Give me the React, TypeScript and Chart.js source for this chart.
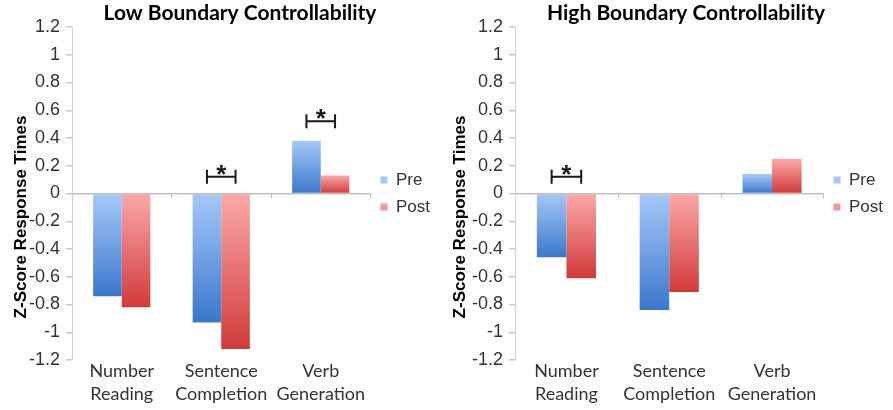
import React, { useEffect, useRef } from 'react';
import { Chart, registerables } from 'chart.js';

Chart.register(...registerables);

// ---- data ----
const categories: string[][] = [
  ['Number', 'Reading'],
  ['Sentence', 'Completion'],
  ['Verb', 'Generation'],
];
const seriesNames = ['Pre', 'Post'];

const lowTitle = 'Low Boundary Controllability';
const lowPre = [-0.74, -0.93, 0.38];
const lowPost = [-0.82, -1.12, 0.13];
const lowSigLevels: (number | null)[] = [null, 0.12, 0.52];

const highTitle = 'High Boundary Controllability';
const highPre = [-0.46, -0.84, 0.14];
const highPost = [-0.61, -0.71, 0.25];
const highSigLevels: (number | null)[] = [0.12, null, null];

const yAxisTitle = 'Z-Score Response Times';
const yMin = -1.2;
const yMax = 1.2;
const yStep = 0.2;
const sigMark = '*';

// ---- styles ----
const ARIAL = '"Liberation Sans", Arial, sans-serif';
const CAL = 'Lato, "Open Sans", sans-serif';
const PALETTE = {
  pre: { light: '#a6c8f8', dark: '#3a78cc', solid: '#4a84d2' },
  post: { light: '#fba8a8', dark: '#d23a3a', solid: '#d9545a' },
};

function gradientFill(c: { light: string; dark: string; solid: string }) {
  return (ctx: any) => {
    if (ctx.type !== 'data') return c.solid;
    const chart = ctx.chart;
    const ys = chart.scales && chart.scales.y;
    if (!ys) return c.solid;
    const v = ctx.raw as number;
    const p0 = ys.getPixelForValue(0);
    const p1 = ys.getPixelForValue(v);
    const top = Math.min(p0, p1);
    const bot = Math.max(p0, p1);
    if (!isFinite(top) || !isFinite(bot) || bot - top < 1) return c.solid;
    const g = chart.ctx.createLinearGradient(0, top, 0, bot);
    g.addColorStop(0, c.light);
    g.addColorStop(1, c.dark);
    return g;
  };
}

const decorPlugin = {
  id: 'decor',
  afterDatasetsDraw(chart: any, _args: any, opts: any) {
    const { ctx, chartArea } = chart;
    const x = chart.scales.x;
    const y = chart.scales.y;
    ctx.save();
    // small category tick marks on the zero line
    const zy = y.getPixelForValue(0);
    const n = chart.data.labels.length;
    ctx.strokeStyle = '#bfbfbf';
    ctx.lineWidth = 1;
    ctx.beginPath();
    for (let i = 1; i <= n; i++) {
      const bx = i < n ? (x.getPixelForTick(i - 1) + x.getPixelForTick(i)) / 2 : chartArea.right;
      ctx.moveTo(Math.round(bx) + 0.5, zy);
      ctx.lineTo(Math.round(bx) + 0.5, zy + 5);
    }
    ctx.stroke();

    // significance brackets
    const m0 = chart.getDatasetMeta(0);
    const m1 = chart.getDatasetMeta(1);
    (opts.sig || []).forEach((lvl: number | null, j: number) => {
      if (lvl == null) return;
      const x1 = m0.data[j].x;
      const x2 = m1.data[j].x;
      const by = y.getPixelForValue(lvl);
      ctx.strokeStyle = '#1a1a1a';
      ctx.lineWidth = 2;
      ctx.beginPath();
      ctx.moveTo(x1, by);
      ctx.lineTo(x2, by);
      ctx.moveTo(x1, by - 7);
      ctx.lineTo(x1, by + 7);
      ctx.moveTo(x2, by - 7);
      ctx.lineTo(x2, by + 7);
      ctx.stroke();
      ctx.fillStyle = '#1a1a1a';
      ctx.font = `bold 26px ${ARIAL}`;
      ctx.textAlign = 'center';
      ctx.textBaseline = 'alphabetic';
      ctx.fillText(sigMark, (x1 + x2) / 2, by + 6);
    });

    // chart title
    ctx.fillStyle = '#000';
    ctx.font = `700 21px ${CAL}`;
    ctx.textAlign = 'center';
    ctx.textBaseline = 'middle';
    ctx.fillText(opts.title, opts.titleX, opts.titleY);

    // y axis title
    ctx.translate(opts.yTitleX, opts.yTitleY);
    ctx.rotate(-Math.PI / 2);
    ctx.font = `bold 17px ${ARIAL}`;
    ctx.fillText(yAxisTitle, 0, 0);
    ctx.restore();
  },
};

type PanelProps = {
  left: number;
  width: number;
  title: string;
  pre: number[];
  post: number[];
  sig: (number | null)[];
  axisW: number;
  padRight: number;
  yTitleX: number;
};

function formatTick(v: number | string) {
  const r = Math.round(Number(v) * 10) / 10;
  return r === 0 ? '0' : String(r);
}

function Panel(p: PanelProps) {
  const ref = useRef<HTMLCanvasElement | null>(null);
  useEffect(() => {
    if (!ref.current) return;
    const chart = new Chart(ref.current, {
      type: 'bar',
      data: {
        labels: categories,
        datasets: [
          {
            label: seriesNames[0],
            data: p.pre,
            backgroundColor: gradientFill(PALETTE.pre) as any,
            borderWidth: 0,
            barPercentage: 1,
            categoryPercentage: 0.575,
          },
          {
            label: seriesNames[1],
            data: p.post,
            backgroundColor: gradientFill(PALETTE.post) as any,
            borderWidth: 0,
            barPercentage: 1,
            categoryPercentage: 0.575,
          },
        ],
      },
      options: {
        responsive: false,
        animation: false,
        devicePixelRatio: 1,
        layout: { padding: { top: 27, bottom: 0, left: 0, right: p.padRight } },
        plugins: {
          legend: {
            display: true,
            position: 'right',
            fullSize: false,
            align: 'center',
            labels: {
              boxWidth: 7,
              boxHeight: 7,
              padding: 10,
              color: '#333',
              font: { size: 17, family: ARIAL },
            },
          },
          title: { display: false },
          tooltip: { enabled: false },
          decor: {
            title: p.title,
            titleX: 240,
            titleY: 13,
            sig: p.sig,
            yTitleX: p.yTitleX,
            yTitleY: 217,
          },
        } as any,
        scales: {
          x: {
            grid: { display: false, drawTicks: false },
            border: { display: false },
            ticks: {
              autoSkip: false,
              maxRotation: 0,
              padding: 0,
              color: '#333',
              font: { size: 18, family: CAL, lineHeight: 1.25 },
            },
            afterFit: (s: any) => {
              s.height = 50;
            },
          },
          y: {
            min: yMin,
            max: yMax,
            ticks: {
              stepSize: yStep,
              padding: 6,
              color: '#333',
              font: { size: 18, family: ARIAL },
              callback: (v: any) => formatTick(v),
            },
            grid: {
              drawTicks: true,
              tickLength: 6,
              tickColor: '#c8c8c8',
              color: (c: any) => (c.tick && Math.abs(c.tick.value) < 1e-9 ? '#bfbfbf' : 'rgba(0,0,0,0)'),
              lineWidth: 1.5,
            },
            border: { display: true, color: '#d0d0d0', width: 1 },
            afterFit: (s: any) => {
              s.width = p.axisW;
            },
          },
        },
      },
      plugins: [decorPlugin as any],
    });
    return () => chart.destroy();
  }, []);
  return (
    <canvas
      ref={ref}
      width={p.width}
      height={410}
      style={{ position: 'absolute', left: p.left, top: 0, width: p.width, height: 410 }}
    />
  );
}

export default function App() {
  return (
    <div style={{ position: 'fixed', left: 0, top: 0, width: 893, height: 410, background: '#fff', overflow: 'hidden' }}>
      <Panel left={0} width={446} title={lowTitle} pre={lowPre} post={lowPost} sig={lowSigLevels} axisW={72} padRight={6} yTitleX={21} />
      <Panel left={446} width={447} title={highTitle} pre={highPre} post={highPost} sig={highSigLevels} axisW={69} padRight={0} yTitleX={14} />
    </div>
  );
}
